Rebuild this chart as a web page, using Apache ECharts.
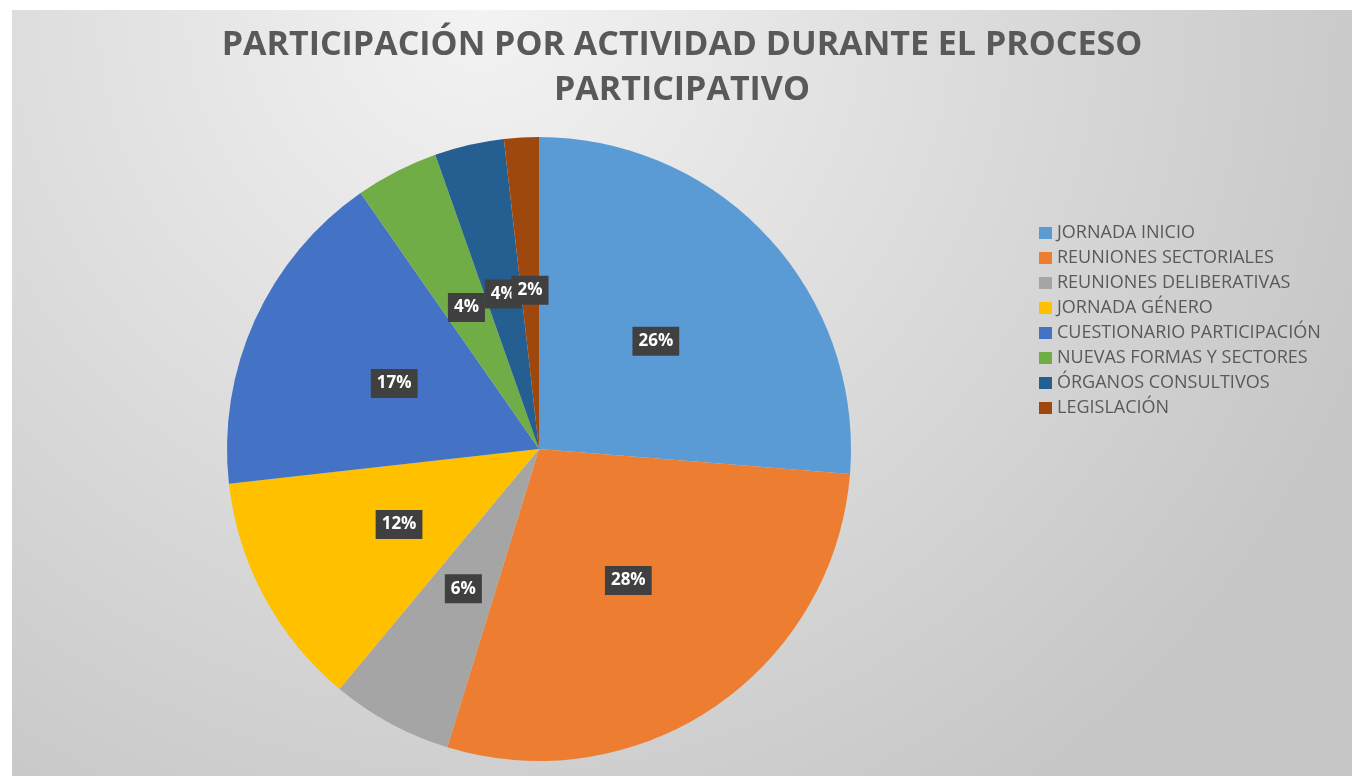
<!DOCTYPE html>
<html>
<head>
<meta charset="utf-8">
<script src="https://cdn.jsdelivr.net/npm/echarts@6/dist/echarts.min.js"></script>
<style>
    html, body { margin: 0; padding: 0; background: #fff; }
    #chartPie { position: absolute; left: 12px; top: 10px; width: 1340px; height: 766px; }
</style>
</head>
<body>
<div id="chartPie"></div>
<script>
    var categories = ['JORNADA INICIO', 'REUNIONES SECTORIALES', 'REUNIONES DELIBERATIVAS', 'JORNADA GÉNERO',
        'CUESTIONARIO PARTICIPACIÓN', 'NUEVAS FORMAS Y SECTORES', 'ÓRGANOS CONSULTIVOS', 'LEGISLACIÓN'];
    var values = [26.3, 28.5, 6.3, 12.2, 17.1, 4.3, 3.6, 1.8];
    var colorList = ['#5B9BD5', '#ED7D31', '#A5A5A5', '#FFC000', '#4472C4', '#70AD47', '#255E91', '#9E480E'];

    var chartPie = echarts.init(document.getElementById('chartPie'));
    chartPie.setOption({
        backgroundColor: {
            type: 'radial', x: 0.35, y: 0, r: 1.25,
            colorStops: [{ offset: 0, color: '#f3f3f3' }, { offset: 1, color: '#c6c6c6' }]
        },
        title: {
            text: 'PARTICIPACIÓN POR ACTIVIDAD DURANTE EL PROCESO\nPARTICIPATIVO',
            left: 'center',
            top: 13,
            padding: 0,
            textStyle: {
                fontFamily: 'Open Sans',
                fontWeight: 'bold',
                fontSize: 34,
                lineHeight: 45,
                color: '#595959'
            }
        },
        color: colorList,
        legend: {
            orient: 'vertical',
            left: 1022,
            top: 209,
            itemWidth: 13,
            itemHeight: 12,
            itemGap: 7,
            icon: 'rect',
            textStyle: { fontFamily: 'Open Sans', fontSize: 18, color: '#595959', lineHeight: 16 },
            data: categories
        },
        series: [{
            type: 'pie',
            radius: 312,
            center: [527, 439],
            startAngle: 90,
            clockwise: true,
            animation: false,
            label: {
                position: 'inside',
                formatter: function (p) { return Math.round(p.percent) + '%'; },
                color: '#ffffff',
                fontFamily: 'Open Sans',
                fontWeight: 'bold',
                fontSize: 17,
                backgroundColor: '#404040',
                padding: [6, 6]
            },
            labelLayout: { hideOverlap: false },
            labelLine: { show: false },
            data: categories.map(function (c, i) { return { name: c, value: values[i] }; })
        }]
    });
</script>
</body>
</html>
